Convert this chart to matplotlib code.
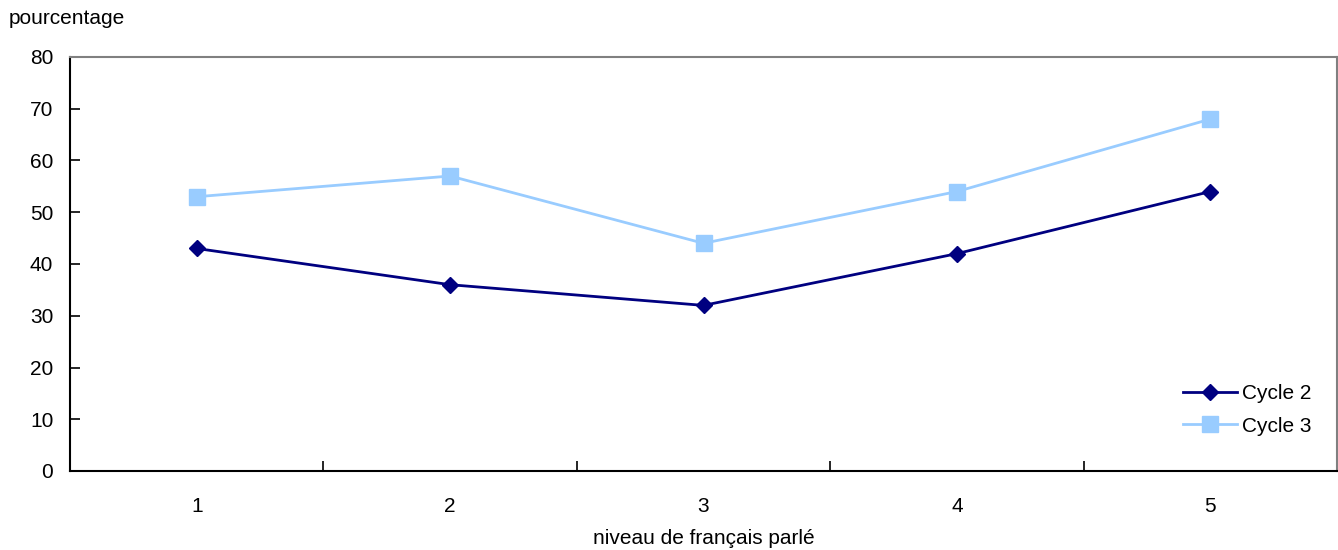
import matplotlib

matplotlib.use("Agg")
import matplotlib.pyplot as plt

plt.rcParams["font.family"] = ["Liberation Sans", "DejaVu Sans"]
plt.rcParams["font.size"] = 15

levels = ["1", "2", "3", "4", "5"]
cycle2 = [43, 36, 32, 42, 54]
cycle3 = [53, 57, 44, 54, 68]
y_ticks = [0, 10, 20, 30, 40, 50, 60, 70, 80]

fig = plt.figure(figsize=(13.38, 5.5), dpi=100)
ax = fig.add_axes([70 / 1338, 1 - 471 / 550, (1337 - 70) / 1338, (471 - 57) / 550])

x = list(range(len(levels)))
ax.plot(x, cycle2, color="#000080", marker="D", markersize=8.5, linewidth=2, label="Cycle 2")
ax.plot(x, cycle3, color="#99CCFF", marker="s", markersize=11.5, linewidth=2, label="Cycle 3")

ax.set_xlim(-0.5, len(levels) - 0.5)
ax.set_ylim(0, 80)
ax.set_yticks(y_ticks)
ax.set_xticks(x)
ax.set_xticklabels(levels)
ax.set_xticks([i + 0.5 for i in x[:-1]], minor=True)
ax.tick_params(axis="x", which="major", length=0, pad=19)
ax.tick_params(axis="x", which="minor", direction="in", length=7, width=1.2)
ax.tick_params(axis="y", direction="in", length=7, width=1.2, pad=12)

for side in ("left", "bottom"):
    ax.spines[side].set_color("black")
    ax.spines[side].set_linewidth(1.5)
for side in ("top", "right"):
    ax.spines[side].set_color("#808080")
    ax.spines[side].set_linewidth(1.5)

ax.set_xlabel("niveau de français parlé", labelpad=9)
fig.text(9 / 1338, 1 - 18 / 550, "pourcentage", ha="left", va="center")

ax.legend(loc="upper left", bbox_to_anchor=(1183 / 1338, 1 - 384 / 550),
          bbox_transform=fig.transFigure, frameon=False, borderpad=0,
          borderaxespad=0, handlelength=2.6, handletextpad=0.25, labelspacing=0.65)

fig.savefig("out.png", dpi=100)
